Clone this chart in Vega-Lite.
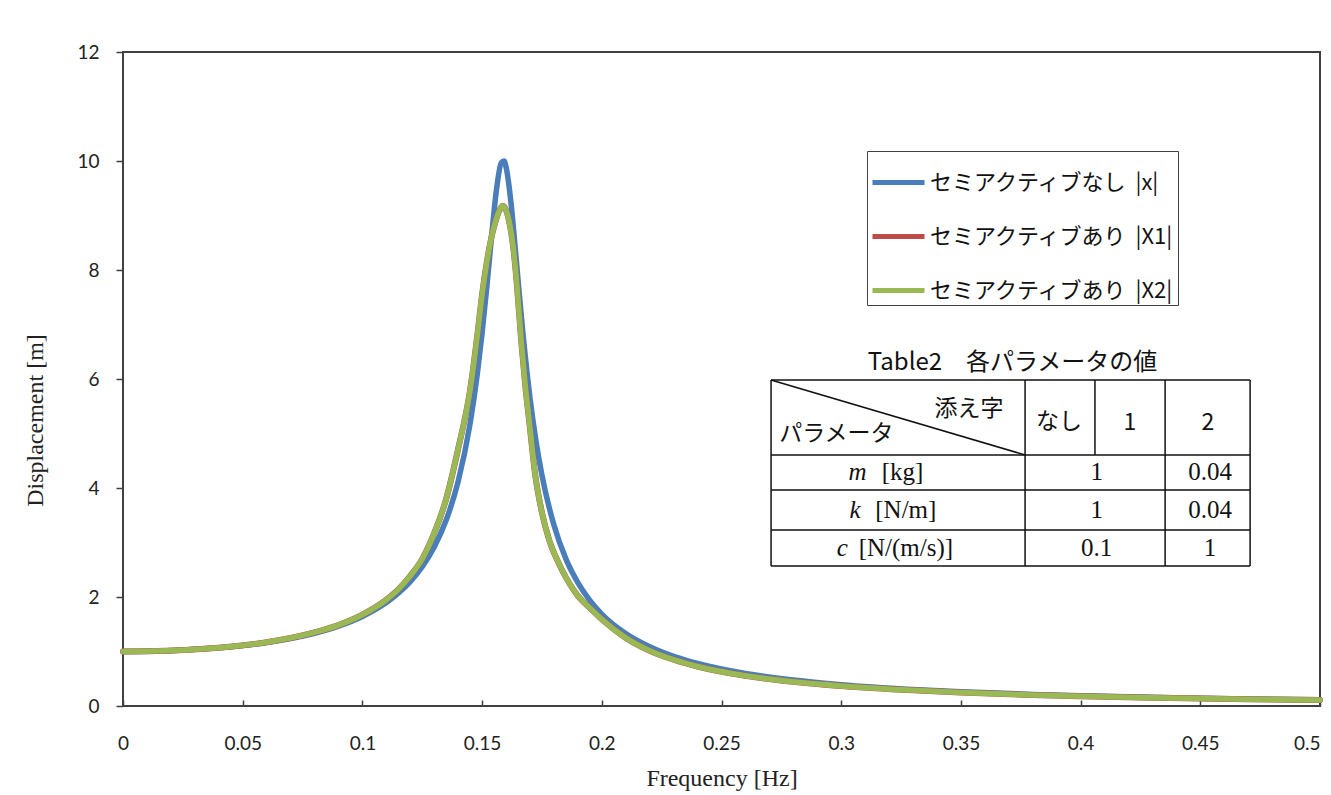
{
"$schema": "https://vega.github.io/schema/vega-lite/v6.json",
"width": 1197, "height": 654,
"autosize": {"type": "none"},
"padding": {"left": 123, "top": 52, "right": 11, "bottom": 89},
"background": "white",
"config": {"view": {"stroke": "#404040", "strokeWidth": 2}},
"datasets": {
"blue": [
{"f":0,"d":1.000},{"f":0.02,"d":1.016},{"f":0.04,"d":1.067},{"f":0.06,"d":1.165},{"f":0.08,"d":1.335},{"f":0.09,"d":1.465},{"f":0.10,"d":1.643},{"f":0.11,"d":1.898},{"f":0.115,"d":2.069},{"f":0.12,"d":2.283},{"f":0.125,"d":2.557},{"f":0.13,"d":2.918},{"f":0.135,"d":3.412},{"f":0.14,"d":4.120},{"f":0.145,"d":5.185},{"f":0.148,"d":6.092},{"f":0.15,"d":6.843},{"f":0.152,"d":7.704},{"f":0.154,"d":8.631},{"f":0.156,"d":9.471},{"f":0.158,"d":9.968},{"f":0.1592,"d":10.0},{"f":0.160,"d":9.890},{"f":0.162,"d":9.259},{"f":0.164,"d":8.322},{"f":0.165,"d":7.822},{"f":0.167,"d":6.866},{"f":0.170,"d":5.655},{"f":0.1725,"d":4.863},{"f":0.175,"d":4.234},{"f":0.180,"d":3.321},{"f":0.185,"d":2.700},{"f":0.190,"d":2.264},{"f":0.195,"d":1.938},{"f":0.200,"d":1.687},{"f":0.210,"d":1.329},{"f":0.220,"d":1.086},{"f":0.230,"d":0.911},{"f":0.240,"d":0.780},{"f":0.260,"d":0.596},{"f":0.280,"d":0.476},{"f":0.300,"d":0.391},{"f":0.330,"d":0.303},{"f":0.350,"d":0.260},{"f":0.380,"d":0.213},{"f":0.400,"d":0.188},{"f":0.430,"d":0.159},{"f":0.450,"d":0.143},{"f":0.470,"d":0.129},{"f":0.500,"d":0.113}
],
"green": [
{"f":0,"d":1.000},{"f":0.02,"d":1.017},{"f":0.04,"d":1.069},{"f":0.06,"d":1.170},{"f":0.08,"d":1.350},{"f":0.09,"d":1.485},{"f":0.10,"d":1.675},{"f":0.11,"d":1.950},{"f":0.115,"d":2.14},{"f":0.12,"d":2.39},{"f":0.125,"d":2.70},{"f":0.13,"d":3.17},{"f":0.135,"d":3.80},{"f":0.14,"d":4.72},{"f":0.145,"d":5.80},{"f":0.148,"d":6.80},{"f":0.150,"d":7.55},{"f":0.152,"d":8.15},{"f":0.154,"d":8.62},{"f":0.156,"d":8.95},{"f":0.1575,"d":9.12},{"f":0.1586,"d":9.18},{"f":0.160,"d":9.10},{"f":0.1615,"d":8.85},{"f":0.163,"d":8.42},{"f":0.1645,"d":7.75},{"f":0.1663,"d":6.72},{"f":0.168,"d":5.90},{"f":0.170,"d":5.10},{"f":0.1721,"d":4.27},{"f":0.175,"d":3.55},{"f":0.178,"d":3.05},{"f":0.182,"d":2.62},{"f":0.185,"d":2.36},{"f":0.190,"d":2.02},{"f":0.195,"d":1.80},{"f":0.200,"d":1.59},{"f":0.210,"d":1.25},{"f":0.220,"d":1.015},{"f":0.230,"d":0.85},{"f":0.240,"d":0.725},{"f":0.260,"d":0.555},{"f":0.280,"d":0.445},{"f":0.300,"d":0.367},{"f":0.330,"d":0.287},{"f":0.350,"d":0.247},{"f":0.380,"d":0.203},{"f":0.400,"d":0.180},{"f":0.430,"d":0.152},{"f":0.450,"d":0.138},{"f":0.470,"d":0.125},{"f":0.500,"d":0.109}
],
"tableLines": [
{"f":0.2707,"d":5.982,"f2":0.4708,"d2":5.982},
{"f":0.2707,"d":4.606,"f2":0.4708,"d2":4.606},
{"f":0.2707,"d":3.963,"f2":0.4708,"d2":3.963},
{"f":0.2707,"d":3.229,"f2":0.4708,"d2":3.229},
{"f":0.2707,"d":2.569,"f2":0.4708,"d2":2.569},
{"f":0.2707,"d":2.569,"f2":0.2707,"d2":5.982},
{"f":0.3768,"d":2.569,"f2":0.3768,"d2":5.982},
{"f":0.4060,"d":4.606,"f2":0.4060,"d2":5.982},
{"f":0.4353,"d":2.569,"f2":0.4353,"d2":5.982},
{"f":0.4708,"d":2.569,"f2":0.4708,"d2":5.982},
{"f":0.2707,"d":5.982,"f2":0.3768,"d2":4.606}
],
"tableTitle": [{"f":0.3716,"d":6.29,"text":"Table2\u3000各パラメータの値"}],
"tableSans": [
{"f":0.3534,"d":5.45,"text":"添え字"},
{"f":0.2980,"d":4.985,"text":"パラメータ"},
{"f":0.3910,"d":5.21,"text":"なし"},
{"f":0.4206,"d":5.19,"text":"1"},
{"f":0.4532,"d":5.19,"text":"2"}
],
"tableSerif": [
{"f":0.3256,"d":4.30,"text":"[kg]"},
{"f":0.3270,"d":3.60,"text":"[N/m]"},
{"f":0.3270,"d":2.89,"text":"[N/(m/s)]"},
{"f":0.4067,"d":4.30,"text":"1"},
{"f":0.4067,"d":3.60,"text":"1"},
{"f":0.4067,"d":2.89,"text":"0.1"},
{"f":0.4541,"d":4.30,"text":"0.04"},
{"f":0.4541,"d":3.60,"text":"0.04"},
{"f":0.4541,"d":2.89,"text":"1"}
],
"tableItalic": [
{"f":0.3068,"d":4.30,"text":"m"},
{"f":0.3058,"d":3.60,"text":"k"},
{"f":0.3005,"d":2.89,"text":"c"}
]
},
"layer": [
{
"data": {"name": "blue"},
"transform": [{"calculate": "'セミアクティブなし\u00a0\u00a0|x|'", "as": "series"}],
"mark": {"type": "line", "strokeWidth": 5.5, "interpolate": "monotone", "strokeCap": "round", "strokeJoin": "round"},
"encoding": {
"x": {"field": "f", "type": "quantitative", "scale": {"domain": [0, 0.5], "nice": false, "zero": false},
"axis": {"title": "Frequency [Hz]", "values": [0,0.05,0.1,0.15,0.2,0.25,0.3,0.35,0.4,0.45,0.5], "format": ".2~f", "grid": false, "domain": false, "tickSize": -6, "tickColor": "#404040", "tickWidth": 1.5, "labelFont": "Lato", "labelFontSize": 19, "labelColor": "#222", "labelPadding": 34, "labelFlush": false, "labelAlign": {"condition": {"test": "datum.value >= 0.5", "value": "right"}, "value": "center"}, "titleFont": "Liberation Serif", "titleFontSize": 24, "titleFontWeight": "normal", "titleColor": "#222", "titleY": 72, "titleBaseline": "middle"}},
"y": {"field": "d", "type": "quantitative", "scale": {"domain": [0, 12], "nice": false},
"axis": {"title": "Displacement [m]", "values": [0,2,4,6,8,10,12], "format": "d", "grid": false, "domain": false, "tickSize": 7, "tickColor": "#404040", "tickWidth": 1.5, "labelFont": "Lato", "labelFontSize": 19, "labelColor": "#222", "labelPadding": 17, "titleFont": "Liberation Serif", "titleFontSize": 24, "titleFontWeight": "normal", "titleColor": "#222", "titleX": -88, "titleY": 368, "titleAngle": -90, "titleBaseline": "middle", "titleAlign": "center"}},
"color": {"field": "series", "type": "nominal",
"scale": {"domain": ["セミアクティブなし\u00a0\u00a0|x|", "セミアクティブあり\u00a0\u00a0|X1|", "セミアクティブあり\u00a0\u00a0|X2|"], "range": ["#4A7EBB", "#BE4B48", "#98B954"]},
"legend": {"title": null, "orient": "none", "legendX": 744, "legendY": 99, "direction": "vertical", "symbolType": "stroke", "symbolStrokeWidth": 5, "symbolSize": 2704, "labelFont": "Noto Sans CJK JP", "labelFontSize": 22, "labelColor": "#111", "labelLimit": 400, "labelOffset": 3, "strokeColor": "#404040", "fillColor": "white", "padding": 3, "rowPadding": 14}}
}
},
{
"data": {"name": "green"},
"transform": [{"calculate": "'セミアクティブあり\u00a0\u00a0|X1|'", "as": "series"}],
"mark": {"type": "line", "strokeWidth": 6, "interpolate": "monotone", "strokeCap": "round", "strokeJoin": "round"},
"encoding": {"x": {"field": "f", "type": "quantitative"}, "y": {"field": "d", "type": "quantitative"}, "color": {"field": "series", "type": "nominal"}}
},
{
"data": {"name": "green"},
"transform": [{"calculate": "'セミアクティブあり\u00a0\u00a0|X2|'", "as": "series"}],
"mark": {"type": "line", "strokeWidth": 5.5, "interpolate": "monotone", "strokeCap": "round", "strokeJoin": "round"},
"encoding": {"x": {"field": "f", "type": "quantitative"}, "y": {"field": "d", "type": "quantitative"}, "color": {"field": "series", "type": "nominal"}}
},
{
"data": {"name": "tableLines"},
"mark": {"type": "rule", "color": "#111", "strokeWidth": 1.5},
"encoding": {"x": {"field": "f", "type": "quantitative"}, "y": {"field": "d", "type": "quantitative"}, "x2": {"field": "f2"}, "y2": {"field": "d2"}}
},
{
"data": {"name": "tableTitle"},
"mark": {"type": "text", "font": "Noto Sans CJK JP", "fontSize": 24, "align": "center", "baseline": "middle", "color": "#111"},
"encoding": {"x": {"field": "f", "type": "quantitative"}, "y": {"field": "d", "type": "quantitative"}, "text": {"field": "text"}}
},
{
"data": {"name": "tableSans"},
"mark": {"type": "text", "font": "Noto Sans CJK JP", "fontSize": 23, "align": "center", "baseline": "middle", "color": "#111"},
"encoding": {"x": {"field": "f", "type": "quantitative"}, "y": {"field": "d", "type": "quantitative"}, "text": {"field": "text"}}
},
{
"data": {"name": "tableSerif"},
"mark": {"type": "text", "font": "Liberation Serif", "fontSize": 25, "align": "center", "baseline": "middle", "color": "#111"},
"encoding": {"x": {"field": "f", "type": "quantitative"}, "y": {"field": "d", "type": "quantitative"}, "text": {"field": "text"}}
},
{
"data": {"name": "tableItalic"},
"mark": {"type": "text", "font": "Liberation Serif", "fontSize": 25, "fontStyle": "italic", "align": "center", "baseline": "middle", "color": "#111"},
"encoding": {"x": {"field": "f", "type": "quantitative"}, "y": {"field": "d", "type": "quantitative"}, "text": {"field": "text"}}
}
]
}
